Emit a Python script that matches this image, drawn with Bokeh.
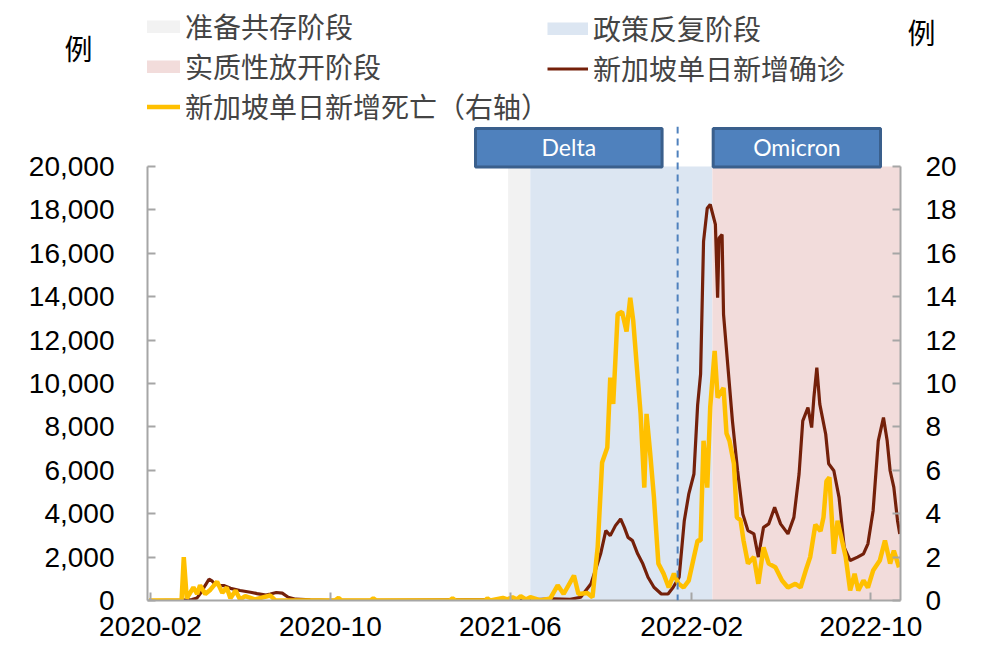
import pandas as pd
from bokeh.plotting import figure
from bokeh.layouts import column
from bokeh.models import (Range1d, LinearAxis, FixedTicker, NumeralTickFormatter,
                          DatetimeTickFormatter, Span, Legend, LegendItem,
                          ColumnDataSource)
from bokeh.core.properties import value
from bokeh.embed import file_html
from bokeh.resources import INLINE

# ---------------- data ----------------
case_dates = [
    "2020-01-30", "2020-03-15", "2020-03-28", "2020-04-04", "2020-04-10", "2020-04-15",
    "2020-04-20", "2020-04-24", "2020-04-28", "2020-05-04", "2020-05-10", "2020-05-19",
    "2020-06-01", "2020-06-15", "2020-06-24", "2020-07-06", "2020-07-12", "2020-07-20",
    "2020-07-28", "2020-08-05", "2020-08-15", "2020-09-04", "2020-10-01", "2020-12-01",
    "2021-02-01", "2021-04-01", "2021-05-01", "2021-06-01", "2021-06-15", "2021-07-05",
    "2021-07-29", "2021-08-21", "2021-09-04", "2021-09-18", "2021-10-01", "2021-10-08",
    "2021-10-14", "2021-10-21", "2021-10-28", "2021-11-02", "2021-11-07", "2021-11-13",
    "2021-11-20", "2021-11-27", "2021-12-04", "2021-12-12", "2021-12-22", "2021-12-31",
    "2022-01-07", "2022-01-15", "2022-01-22", "2022-01-28", "2022-02-04", "2022-02-09",
    "2022-02-13", "2022-02-17", "2022-02-22", "2022-02-26", "2022-03-05", "2022-03-08",
    "2022-03-10", "2022-03-14", "2022-03-16", "2022-03-22", "2022-03-28", "2022-04-04",
    "2022-04-11", "2022-04-18", "2022-04-26", "2022-05-02", "2022-05-09", "2022-05-16",
    "2022-05-24", "2022-06-01", "2022-06-11", "2022-06-19", "2022-06-26", "2022-07-01",
    "2022-07-08", "2022-07-13", "2022-07-16", "2022-07-20", "2022-07-24", "2022-08-01",
    "2022-08-05", "2022-08-12", "2022-08-19", "2022-08-26", "2022-09-03", "2022-09-13",
    "2022-09-21", "2022-09-27", "2022-10-04", "2022-10-11", "2022-10-18", "2022-10-23",
    "2022-10-27", "2022-11-01", "2022-11-06", "2022-11-09",
]
case_values = [
    0, 20, 40, 120, 400, 700,
    980, 900, 760, 700, 690, 560,
    460, 380, 320, 250, 300, 370,
    340, 150, 60, 30, 10, 10,
    20, 25, 25, 30, 20, 40,
    80, 50, 150, 770, 2150, 3220,
    2990, 3450, 3760, 3370, 2910, 2760,
    2150, 1690, 1070, 610, 300, 300,
    610, 1070, 3680, 4900, 5830, 9000,
    10430, 16550, 18080, 18250, 17330, 13950,
    16700, 16860, 13190, 10730, 8280, 5980,
    3990, 3220, 3070, 2000, 3370, 3530,
    4290, 3530, 3070, 3830, 5830, 8280,
    8890, 7970, 9350, 10730, 9050, 7660,
    6300, 5980, 4750, 2450, 1840, 2000,
    2150, 2610, 4140, 7360, 8430, 7360,
    5980, 5210, 3680, 3070,
]

death_dates = [
    "2020-01-30", "2020-03-14", "2020-03-17", "2020-03-21", "2020-03-30", "2020-04-04",
    "2020-04-08", "2020-04-15", "2020-04-22", "2020-05-01", "2020-05-08", "2020-05-14",
    "2020-05-19", "2020-05-26", "2020-06-01", "2020-06-08", "2020-06-21", "2020-07-12",
    "2020-07-19", "2020-10-07", "2020-10-12", "2020-10-16", "2020-11-24", "2020-11-28",
    "2020-12-02", "2021-03-11", "2021-03-15", "2021-03-19", "2021-04-28", "2021-05-01",
    "2021-05-05", "2021-05-22", "2021-05-28", "2021-06-04", "2021-06-10", "2021-06-15",
    "2021-06-22", "2021-06-28", "2021-07-12", "2021-07-25", "2021-08-04", "2021-08-12",
    "2021-08-26", "2021-09-01", "2021-09-13", "2021-09-20", "2021-09-27", "2021-10-03",
    "2021-10-10", "2021-10-14", "2021-10-18", "2021-10-24", "2021-10-30", "2021-11-05",
    "2021-11-10", "2021-11-14", "2021-11-20", "2021-11-24", "2021-11-29", "2021-12-02",
    "2021-12-07", "2021-12-12", "2021-12-18", "2021-12-25", "2022-01-01", "2022-01-08",
    "2022-01-14", "2022-01-21", "2022-01-28", "2022-02-04", "2022-02-09", "2022-02-13",
    "2022-02-17", "2022-02-22", "2022-02-26", "2022-03-04", "2022-03-08", "2022-03-16",
    "2022-03-20", "2022-03-24", "2022-03-30", "2022-04-03", "2022-04-08", "2022-04-12",
    "2022-04-18", "2022-04-26", "2022-05-02", "2022-05-09", "2022-05-16", "2022-05-25",
    "2022-06-03", "2022-06-11", "2022-06-21", "2022-06-28", "2022-07-05", "2022-07-11",
    "2022-07-18", "2022-07-25", "2022-07-29", "2022-08-02", "2022-08-06", "2022-08-12",
    "2022-08-17", "2022-08-21", "2022-08-28", "2022-09-03", "2022-09-09", "2022-09-14",
    "2022-09-21", "2022-09-27", "2022-10-04", "2022-10-13", "2022-10-20", "2022-10-27",
    "2022-11-01", "2022-11-08",
]
death_values = [
    0, 0, 2.0, 0.1, 0.6, 0.3,
    0.7, 0.3, 0.5, 0.87, 0.35, 0.6,
    0.1, 0.46, 0.05, 0.2, 0.05, 0.23,
    0, 0, 0.12, 0, 0, 0.1,
    0, 0, 0.1, 0, 0, 0.1,
    0, 0.12, 0.05, 0.15, 0.05, 0.2,
    0.05, 0.15, 0, 0.1, 0.7, 0.3,
    1.15, 0.3, 0.35, 0.15, 2.45, 6.36,
    7.05, 10.27, 9.06, 13.2, 13.3, 12.4,
    13.95, 12.9, 10.3, 8.6, 5.2, 8.6,
    6.75, 4.75, 1.7, 1.24, 0.6, 1.24,
    0.78, 0.6, 0.92, 2.0, 2.76, 2.76,
    7.36, 5.2, 8.9, 11.5, 9.35, 9.8,
    7.7, 7.36, 6.3, 3.83, 3.7, 2.76,
    1.7, 2.0, 0.77, 2.45, 1.7, 1.53,
    0.92, 0.6, 0.77, 0.6, 1.38, 2.0,
    3.5, 3.2, 3.83, 5.5, 5.67, 2.15,
    3.68, 3.07, 2.0, 0.46, 1.23, 0.46,
    0.92, 0.6, 1.38, 1.84, 2.76, 1.7,
    2.3, 1.53,
]

stage_names = ["准备共存阶段", "政策反复阶段", "实质性放开阶段"]
stage_starts = ["2021-05-29", "2021-06-28", "2022-03-01"]
stage_ends = ["2021-06-28", "2022-03-01", "2022-11-10"]

variant_names = ["Delta", "Omicron"]
variant_starts = ["2021-04-15", "2022-03-02"]
variant_ends = ["2021-12-23", "2022-10-14"]

marker_date = "2022-01-13"

x_tick_dates = ["2020-02-01", "2020-10-01", "2021-06-01", "2022-02-01", "2022-10-01"]
left_ticks = list(range(0, 20001, 2000))
right_ticks = list(range(0, 21, 2))

case_label = "新加坡单日新增确诊"
death_label = "新加坡单日新增死亡（右轴）"
unit_label = "例"

# ---------------- styles ----------------
STAGE_COLORS = ["#F2F2F2", "#DCE6F2", "#F2DCDB"]
CASE_COLOR = "#74200A"
DEATH_COLOR = "#FFC000"
BOX_FILL = "#4F81BD"
BOX_LINE = "#3A5F8C"
MARK_COLOR = "#4F81BD"
AXIS_COLOR = "#A6A6A6"
NUM_FONT = "Liberation Sans"
CJK_FONT = "Noto Sans CJK SC"

W = 981
HEAD_H = 126
MAIN_H = 531
FRAME_L = 147
FRAME_R = 900
FRAME_BOTTOM_PX = 600          # page row of value 0
PX_PER_20000 = 434.0           # page rows from 0 to 20,000


def ms(s):
    return pd.Timestamp(s).value / 1e6


X_START = pd.Timestamp("2020-01-28")
X_END = pd.Timestamp("2022-11-10")
Y_TOP = (FRAME_BOTTOM_PX - HEAD_H) / PX_PER_20000 * 20000
Y2_TOP = Y_TOP / 1000.0

# ---------------- main chart ----------------
p = figure(width=W, height=MAIN_H, x_axis_type="datetime",
           x_range=Range1d(X_START, X_END), y_range=Range1d(0, Y_TOP),
           output_backend="svg", toolbar_location=None,
           min_border_left=FRAME_L, min_border_right=W - FRAME_R,
           min_border_top=0, min_border_bottom=57)
p.extra_y_ranges = {"right": Range1d(0, Y2_TOP)}
p.outline_line_color = None
p.xgrid.visible = False
p.ygrid.visible = False
p.background_fill_color = "white"
p.border_fill_color = "white"

band_src = ColumnDataSource(dict(
    left=pd.to_datetime(stage_starts), right=pd.to_datetime(stage_ends),
    bottom=[0] * len(stage_names), top=[20000] * len(stage_names),
    color=STAGE_COLORS, name=stage_names))
p.quad(left="left", right="right", bottom="bottom", top="top",
       fill_color="color", line_color=None, source=band_src)

vs = pd.to_datetime(variant_starts)
ve = pd.to_datetime(variant_ends)
box_src = ColumnDataSource(dict(left=vs, right=ve, mid=vs + (ve - vs) / 2, name=variant_names))
BOX_BOTTOM = 19980
BOX_TOP = Y_TOP - 90
p.quad(left="left", right="right", bottom=BOX_BOTTOM, top=BOX_TOP, source=box_src,
       fill_color=BOX_FILL, line_color=BOX_LINE, line_width=3)
p.text(x="mid", y=(BOX_BOTTOM + BOX_TOP) / 2 + 40, text="name", source=box_src,
       text_color="white", text_font=value("Lato"), text_font_size="23px",
       text_align="center", text_baseline="middle")

p.add_layout(Span(location=ms(marker_date), dimension="height",
                  line_color=MARK_COLOR, line_dash="7 5", line_width=2))

r_case = p.line(pd.to_datetime(case_dates), case_values, line_color=CASE_COLOR,
                line_width=3.2)
r_death = p.line(pd.to_datetime(death_dates), death_values, line_color=DEATH_COLOR,
                 line_width=4.5, y_range_name="right")

xa = p.xaxis[0]
xa.ticker = FixedTicker(ticks=[ms(d) for d in x_tick_dates])
fmt = "%Y-%m"
xa.formatter = DatetimeTickFormatter(
    microseconds=fmt, milliseconds=fmt, seconds=fmt, minsec=fmt, minutes=fmt,
    hourmin=fmt, hours=fmt, days=fmt, months=fmt, years=fmt)
ya = p.yaxis[0]
ya.ticker = FixedTicker(ticks=left_ticks)
ya.formatter = NumeralTickFormatter(format="0,0")
ya.bounds = (0, 20000)

ra = LinearAxis(y_range_name="right", ticker=FixedTicker(ticks=right_ticks), bounds=(0, 20))
p.add_layout(ra, "right")

for ax in (xa, ya, ra):
    ax.axis_line_color = AXIS_COLOR
    ax.axis_line_width = 2
    ax.major_tick_line_color = AXIS_COLOR
    ax.major_tick_line_width = 2
    ax.major_tick_in = 8
    ax.major_tick_out = 0
    ax.minor_tick_line_color = None
    ax.major_label_text_font = NUM_FONT
    ax.major_label_text_font_size = "28px"
    ax.major_label_text_color = "black"
xa.major_label_standoff = 16
ya.major_label_standoff = 33
ra.major_label_standoff = 25

# ---------------- header: legend + unit labels ----------------
# header y = pixel rows from the top of the page
h = figure(width=W, height=HEAD_H, x_axis_type="datetime",
           x_range=Range1d(X_START, X_END), y_range=Range1d(HEAD_H, 0),
           output_backend="svg", toolbar_location=None,
           x_axis_location=None, y_axis_location=None,
           min_border_left=FRAME_L, min_border_right=W - FRAME_R,
           min_border_top=0, min_border_bottom=0)
h.outline_line_color = None
h.xgrid.visible = False
h.ygrid.visible = False
h.background_fill_color = "white"
h.border_fill_color = "white"

unit_left = LinearAxis(ticker=FixedTicker(ticks=[47]), major_label_overrides={47: unit_label})
unit_right = LinearAxis(ticker=FixedTicker(ticks=[31]), major_label_overrides={31: unit_label})
for ax, st in ((unit_left, 49), (unit_right, 1)):
    ax.axis_line_color = None
    ax.major_tick_line_color = None
    ax.minor_tick_line_color = None
    ax.major_label_text_font = CJK_FONT
    ax.major_label_text_font_size = "28px"
    ax.major_label_text_color = "black"
    ax.major_label_standoff = st
h.add_layout(unit_left, "left")
h.add_layout(unit_right, "right")

# legend swatches (their data lie outside the header's visible range)
far = [pd.Timestamp("2010-01-01"), pd.Timestamp("2010-01-02")]
sw = [h.line(x=far, y=[-50, -50], line_color=c, line_width=13) for c in STAGE_COLORS]
lc = h.line(x=far, y=[-50, -50], line_color=CASE_COLOR, line_width=3.2)
ld = h.line(x=far, y=[-50, -50], line_color=DEATH_COLOR, line_width=4.5)


def make_legend(items, loc):
    return Legend(items=items, location=loc, orientation="vertical",
                  glyph_width=41, glyph_height=13, label_height=38, spacing=-3,
                  label_standoff=5, padding=0, margin=0,
                  label_text_font=CJK_FONT, label_text_font_size="28px",
                  border_line_color=None, background_fill_alpha=0)


leg1 = make_legend([
    LegendItem(label=stage_names[0], renderers=[sw[0]]),
    LegendItem(label=stage_names[2], renderers=[sw[2]]),
    LegendItem(label=death_label, renderers=[ld]),
], (139 - FRAME_L, 0))
leg2 = make_legend([
    LegendItem(label=stage_names[1], renderers=[sw[1]]),
    LegendItem(label=case_label, renderers=[lc]),
], (547 - FRAME_L, 38))
h.add_layout(leg1, "center")
h.add_layout(leg2, "center")

layout = column(h, p, spacing=0)
open("out.html", "w").write(file_html(layout, INLINE))
